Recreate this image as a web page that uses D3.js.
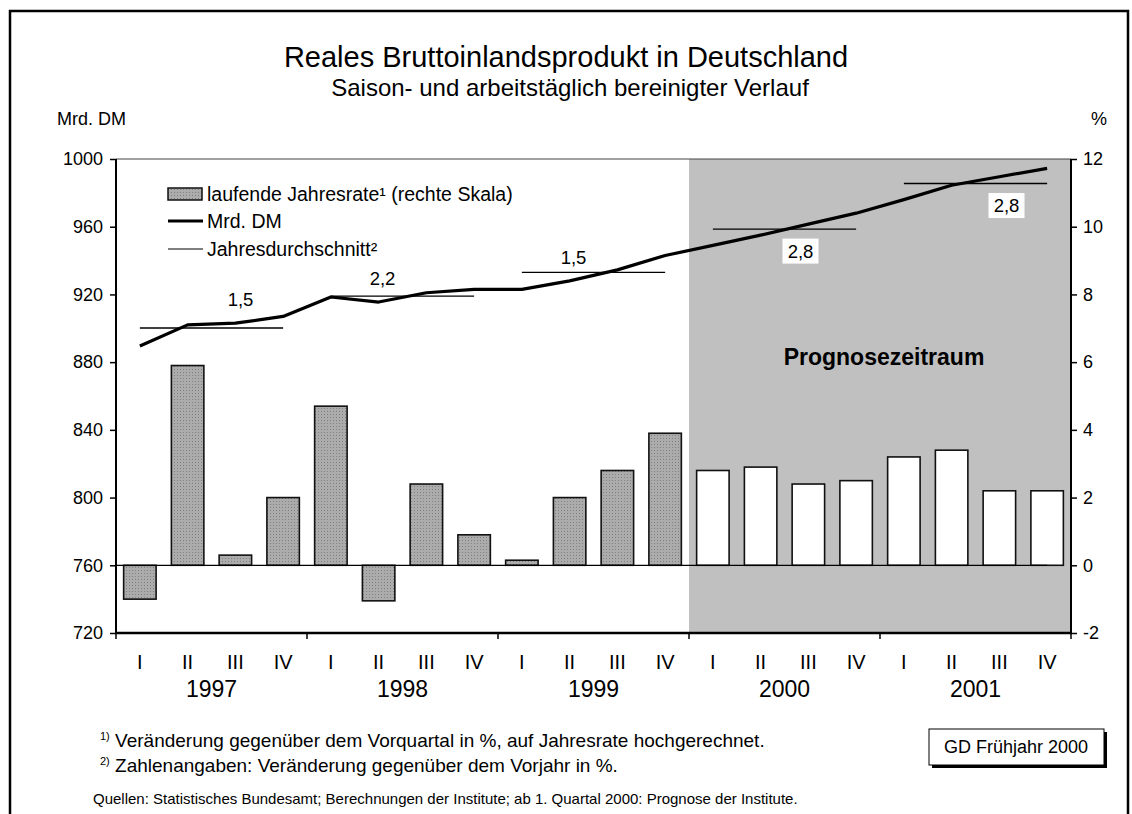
<!DOCTYPE html>
<html>
<head>
<meta charset="utf-8">
<script src="https://cdn.jsdelivr.net/npm/d3@7"></script>
<style>
  body { margin: 0; background: #fff; }
  svg text { font-family: "Liberation Sans", Arial, sans-serif; fill: #000; }
</style>
</head>
<body>
<div id="graph"></div>
<script>
// Werte
const years = ["1997", "1998", "1999", "2000", "2001"];
const quarterNames = ["I", "II", "III", "IV"];
const bipMrdDM = [889.5, 902, 903, 907, 918.5, 915.5, 921, 923, 923, 928, 934.5, 943,
                  949, 955, 961.5, 968, 976, 984.5, 989.5, 994.5];
const jahresrate = [-1.0, 5.9, 0.3, 2.0, 4.7, -1.05, 2.4, 0.9, 0.15, 2.0, 2.8, 3.9,
                    2.8, 2.9, 2.4, 2.5, 3.2, 3.4, 2.2, 2.2];
const jahresDurchschnitt = [900.2, 919, 933, 958.6, 985.5];
const veraenderungVorjahr = ["1,5", "2,2", "1,5", "2,8", "2,8"];
const prognoseAb = "2000";
const leftTicks = [720, 760, 800, 840, 880, 920, 960, 1000];
const rightTicks = [-2, 0, 2, 4, 6, 8, 10, 12];

window.onload = start;

function start() {
    const W = 1132, H = 814;
    const margin = { top: 159, left: 116, right: 1071, bottom: 633 };

    const svg = d3.select("#graph").append("svg")
        .attr("width", W).attr("height", H);

    // Punktraster fuer die grauen Saeulen
    const defs = svg.append("defs");
    const pat = defs.append("pattern").attr("id", "raster")
        .attr("width", 3).attr("height", 3).attr("patternUnits", "userSpaceOnUse");
    pat.append("rect").attr("width", 3).attr("height", 3).attr("fill", "#acacac");
    pat.append("rect").attr("width", 1).attr("height", 1).attr("fill", "#808080");

    // Rahmen
    svg.append("path")
        .attr("d", `M10,${H} L10,11 L1128,11 L1128,${H}`)
        .attr("fill", "none").attr("stroke", "#000").attr("stroke-width", 2.5);

    const keys = [];
    years.forEach(y => quarterNames.forEach(q => keys.push(y + "-" + q)));

    const x = d3.scaleBand().domain(keys).range([margin.left, margin.right]).paddingInner(0.32).paddingOuter(0.16);
    const xq = d3.scaleBand().domain(keys).range([margin.left, margin.right]);
    const yL = d3.scaleLinear().domain([720, 1000]).range([margin.bottom, margin.top]);
    const yR = d3.scaleLinear().domain([-2, 12]).range([margin.bottom, margin.top]);
    const cx = k => xq(k) + xq.bandwidth() / 2;

    // Prognosezeitraum
    const progStart = xq(prognoseAb + "-I");
    svg.append("rect")
        .attr("x", progStart).attr("y", margin.top)
        .attr("width", margin.right - progStart).attr("height", margin.bottom - margin.top)
        .attr("fill", "#c0c0c0");

    // obere Begrenzung
    svg.append("line")
        .attr("x1", margin.left).attr("x2", margin.right)
        .attr("y1", margin.top).attr("y2", margin.top)
        .attr("stroke", "#444").attr("stroke-width", 1);

    svg.append("text").attr("x", 566).attr("y", 67).attr("text-anchor", "middle")
        .style("font-size", "29px").text("Reales Bruttoinlandsprodukt in Deutschland");
    svg.append("text").attr("x", 570).attr("y", 96).attr("text-anchor", "middle")
        .style("font-size", "24px").text("Saison- und arbeitstäglich bereinigter Verlauf");
    svg.append("text").attr("x", 57).attr("y", 125)
        .style("font-size", "18px").text("Mrd. DM");
    svg.append("text").attr("x", 1091).attr("y", 125)
        .style("font-size", "18px").text("%");

    // Saeulen
    svg.append("g").selectAll("rect")
        .data(jahresrate)
        .enter().append("rect")
        .attr("x", (d, i) => x(keys[i]))
        .attr("width", x.bandwidth())
        .attr("y", d => yR(Math.max(0, d)))
        .attr("height", d => Math.abs(yR(d) - yR(0)))
        .attr("fill", (d, i) => xq(keys[i]) >= progStart ? "#fff" : "url(#raster)")
        .attr("stroke", "#111").attr("stroke-width", 1.6);

    // Nulllinie
    svg.append("line")
        .attr("x1", margin.left).attr("x2", cx(keys[keys.length - 1]))
        .attr("y1", yR(0)).attr("y2", yR(0))
        .attr("stroke", "#000").attr("stroke-width", 1.2);

    // Jahresdurchschnitte
    const avgG = svg.append("g");
    const labelOffsets = [[29, -28], [-20, -18], [-20, -15], [16, 22], [31, 22]];
    years.forEach((yr, i) => {
        const x1 = cx(yr + "-I"), x2 = cx(yr + "-IV");
        const yy = yL(jahresDurchschnitt[i]);
        avgG.append("line").attr("x1", x1).attr("x2", x2).attr("y1", yy).attr("y2", yy)
            .attr("stroke", "#000").attr("stroke-width", 1.4);
        const lx = (x1 + x2) / 2 + labelOffsets[i][0], ly = yy + labelOffsets[i][1];
        if (yr >= prognoseAb) {
            avgG.append("rect").attr("x", lx - 18).attr("y", ly - 12.5)
                .attr("width", 36).attr("height", 25).attr("fill", "#fff");
        }
        avgG.append("text").attr("x", lx).attr("y", ly).attr("dy", "0.35em")
            .attr("text-anchor", "middle").style("font-size", "18.5px")
            .text(veraenderungVorjahr[i]);
    });

    // Linie Mrd. DM
    svg.append("path")
        .datum(bipMrdDM)
        .attr("d", d3.line().x((d, i) => cx(keys[i])).y(d => yL(d)))
        .attr("fill", "none").attr("stroke", "#000").attr("stroke-width", 3.2)
        .attr("stroke-linejoin", "round");

    svg.append("text").attr("x", 884).attr("y", 357).attr("dy", "0.35em")
        .attr("text-anchor", "middle").style("font-size", "23px").style("font-weight", "bold")
        .text("Prognosezeitraum");

    // Achsen
    const fmt = d => String(d);
    const axL = svg.append("g").attr("transform", `translate(${margin.left},0)`)
        .call(d3.axisLeft(yL).tickValues(leftTicks).tickFormat(fmt).tickSize(6).tickPadding(7));
    const axR = svg.append("g").attr("transform", `translate(${margin.right},0)`)
        .call(d3.axisRight(yR).tickValues(rightTicks).tickFormat(fmt).tickSize(6).tickPadding(6));
    [axL, axR].forEach(a => {
        a.select(".domain").attr("stroke", "#000").attr("stroke-width", 2)
            .attr("d", `M0,${margin.top}V${margin.bottom}`);
        a.selectAll(".tick line").attr("stroke", "#000").attr("stroke-width", 1.5);
        a.selectAll("text").style("font-size", "18px")
            .style("font-family", "'Liberation Sans', Arial, sans-serif");
    });

    const axB = svg.append("g");
    axB.append("line").attr("x1", margin.left - 1).attr("x2", margin.right + 1)
        .attr("y1", margin.bottom).attr("y2", margin.bottom)
        .attr("stroke", "#000").attr("stroke-width", 2.5);
    years.concat(["end"]).forEach((yr, i) => {
        const xx = i < years.length ? xq(yr + "-I") : margin.right;
        axB.append("line").attr("x1", xx).attr("x2", xx)
            .attr("y1", margin.bottom).attr("y2", margin.bottom + 6)
            .attr("stroke", "#000").attr("stroke-width", 1.5);
    });
    axB.selectAll("text.q").data(keys).enter().append("text").attr("class", "q")
        .attr("x", k => cx(k)).attr("y", 669).attr("text-anchor", "middle")
        .style("font-size", "20px").text(k => k.split("-")[1]);
    axB.selectAll("text.yr").data(years).enter().append("text").attr("class", "yr")
        .attr("x", yr => (cx(yr + "-II") + cx(yr + "-III")) / 2).attr("y", 697)
        .attr("text-anchor", "middle").style("font-size", "23px").text(yr => yr);

    // Legende
    const leg = svg.append("g");
    leg.append("rect").attr("x", 168).attr("y", 188).attr("width", 34).attr("height", 12)
        .attr("fill", "url(#raster)").attr("stroke", "#111").attr("stroke-width", 1.5);
    leg.append("text").attr("x", 207).attr("y", 201).style("font-size", "19.5px")
        .text("laufende Jahresrate¹ (rechte Skala)");
    leg.append("line").attr("x1", 168).attr("x2", 203).attr("y1", 221).attr("y2", 221)
        .attr("stroke", "#000").attr("stroke-width", 3);
    leg.append("text").attr("x", 207).attr("y", 228).style("font-size", "19.5px").text("Mrd. DM");
    leg.append("line").attr("x1", 168).attr("x2", 203).attr("y1", 249).attr("y2", 249)
        .attr("stroke", "#000").attr("stroke-width", 1.2);
    leg.append("text").attr("x", 207).attr("y", 256).style("font-size", "19.5px").text("Jahresdurchschnitt²");

    // Fussnoten
    const fn = svg.append("g");
    const f1 = fn.append("text").attr("x", 100).attr("y", 747).style("font-size", "19px");
    f1.append("tspan").attr("dy", -7).style("font-size", "11px").text("1)");
    f1.append("tspan").attr("dy", 7).text(" Veränderung gegenüber dem Vorquartal in %, auf Jahresrate hochgerechnet.");
    const f2 = fn.append("text").attr("x", 100).attr("y", 772).style("font-size", "19px");
    f2.append("tspan").attr("dy", -7).style("font-size", "11px").text("2)");
    f2.append("tspan").attr("dy", 7).text(" Zahlenangaben: Veränderung gegenüber dem Vorjahr in %.");
    fn.append("text").attr("x", 93).attr("y", 804).style("font-size", "15px")
        .text("Quellen: Statistisches Bundesamt; Berechnungen der Institute; ab 1. Quartal 2000: Prognose der Institute.");

    // GD-Kasten
    svg.append("rect").attr("x", 932).attr("y", 732).attr("width", 175).attr("height", 36).attr("fill", "#000");
    svg.append("rect").attr("x", 929).attr("y", 729).attr("width", 175).attr("height", 36)
        .attr("fill", "#fff").attr("stroke", "#000").attr("stroke-width", 1);
    svg.append("text").attr("x", 1016).attr("y", 747).attr("dy", "0.35em").attr("text-anchor", "middle")
        .style("font-size", "18px").text("GD Frühjahr 2000");
}
</script>
</body>
</html>
